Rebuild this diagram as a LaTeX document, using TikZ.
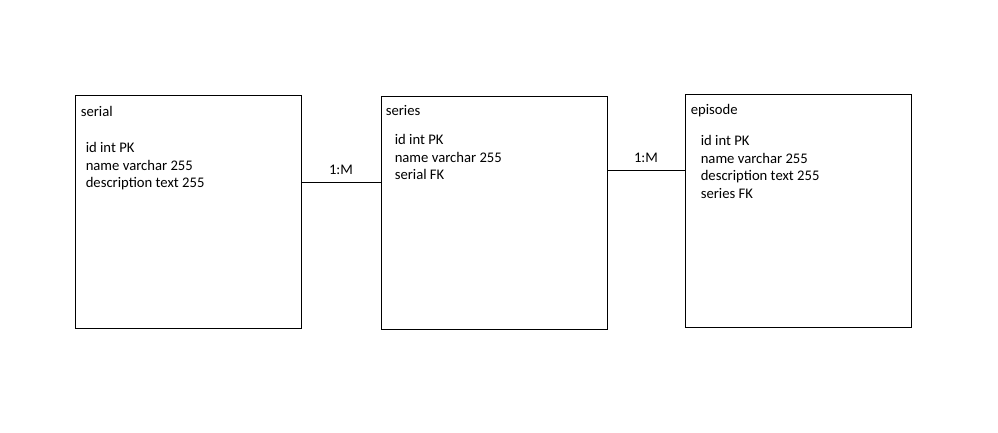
\documentclass[tikz,border=0pt]{standalone}
\usepackage{fontspec}
\setmainfont{Carlito}
\usetikzlibrary{positioning}
\tikzset{
	entity/.style={draw, line width=0.75pt, minimum width=169.5pt, minimum height=174.75pt, inner sep=0pt},
	etitle/.style={anchor=base west, inner sep=0pt, font=\fontsize{11pt}{13.2pt}\selectfont},
	attrs/.style={anchor=north west, inner sep=0pt, align=left, font=\fontsize{11pt}{13.2pt}\selectfont},
	rel/.style={line width=0.75pt},
	card/.style={inner sep=0pt, font=\fontsize{11pt}{13.2pt}\selectfont}
}
\begin{document}
\begin{tikzpicture}[x=0.75pt, y=-0.75pt]
	\useasboundingbox (0,0) rectangle (998,432);
	\path
	coordinate (l1) at (0,182)
	coordinate (l2) at (0,170)
	;
	\node[entity] (serial) at (188,211.5) {};
	\node[entity] (series) at (494,212.5) {};
	\node[entity] (episode) at (798,210.5) {};
	\node[etitle] (serialt) at ([shift={(6,22)}]serial.north west) {serial};
	\node[etitle] (seriest) at ([shift={(5,20)}]series.north west) {series};
	\node[etitle] (episodet) at ([shift={(6,21)}]episode.north west) {episode};
	% first line carries a strut, so north sits 0.7 baselineskip above its baseline
	\node[attrs] (seriala) at ([shift={(11,45.7)}]serial.north west) {\strut id int PK\\name varchar 255\\description text 255};
	\node[attrs] (seriesa) at ([shift={(14,36.7)}]series.north west) {\strut id int PK\\name varchar 255\\serial FK};
	\node[attrs] (episodea) at ([shift={(16,39.7)}]episode.north west) {\strut id int PK\\name varchar 255\\description text 255\\series FK};
	\draw[rel] (serial.east |- l1) -- node[card, above=5.5pt] (c1) {1:M} (series.west |- l1);
	\draw[rel] (series.east |- l2) -- node[card, above=5.5pt] (c2) {1:M} (episode.west |- l2);
\end{tikzpicture}
\end{document}
